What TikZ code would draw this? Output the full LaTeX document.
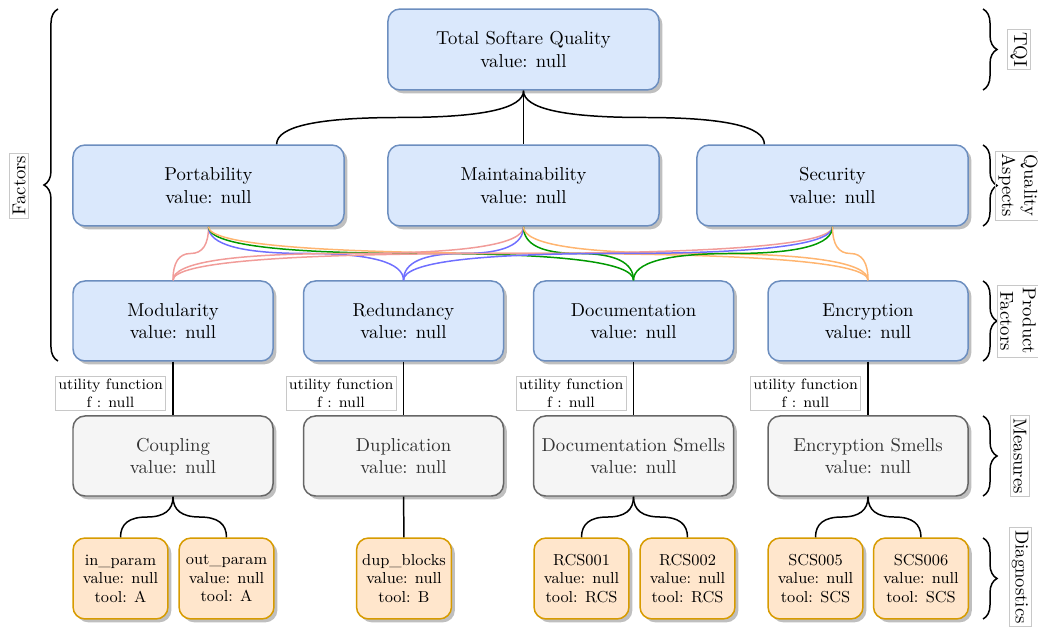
\documentclass[tikz,border=0pt]{standalone}
\usepackage{fontspec}
\usetikzlibrary{calc,shadows,decorations.pathreplacing}

\definecolor{blueFill}{HTML}{DAE8FC}
\definecolor{blueLine}{HTML}{6C8EBF}
\definecolor{greyFill}{HTML}{F5F5F5}
\definecolor{greyLine}{HTML}{666666}
\definecolor{greyText}{HTML}{333333}
\definecolor{orangeFill}{HTML}{FFE6CC}
\definecolor{orangeLine}{HTML}{D79B00}
\definecolor{modColor}{HTML}{F19C99}
\definecolor{redColor}{HTML}{6F6FFF}
\definecolor{docColor}{HTML}{009900}
\definecolor{encColor}{HTML}{FFB570}
\definecolor{tagLine}{HTML}{C8C8C8}

% curved orthogonal link: vertical out, horizontal through the middle, vertical in
\newcommand{\flowcurve}[3][]{%
  \draw[#1] let \p1=(#2), \p2=(#3) in
    (\p1) .. controls (\x1,{(\y1)+((\y2)-(\y1))/3}) and ({(5*(\x1)+(\x2))/6},{((\y1)+(\y2))/2})
    .. ({((\x1)+(\x2))/2},{((\y1)+(\y2))/2})
    .. controls ({((\x1)+5*(\x2))/6},{((\y1)+(\y2))/2}) and (\x2,{(\y2)-((\y2)-(\y1))/3}) .. (\p2);}

\tikzset{
  card/.style={rectangle, rounded corners=6.4pt, line width=0.8pt, align=center,
    inner sep=0pt,
    drop shadow={shadow xshift=1.8pt, shadow yshift=-1.8pt, fill=black, opacity=0.25}},
  bluecard/.style={card, draw=blueLine, fill=blueFill},
  wide/.style={bluecard, minimum width=145pt, minimum height=43.3pt},
  factor/.style={bluecard, minimum width=107pt, minimum height=42.8pt},
  measure/.style={card, draw=greyLine, fill=greyFill, text=greyText,
    minimum width=107pt, minimum height=42.8pt},
  diag/.style={card, draw=orangeLine, fill=orangeFill, minimum width=50.8pt,
    minimum height=43.3pt, font=\fontsize{8.5}{9.9}\selectfont},
  link/.style={draw=black, line width=0.8pt},
  tag/.style={draw=tagLine, fill=white, line width=0.4pt, inner sep=1.5pt,
    align=center, font=\fontsize{8}{9.6}\selectfont},
  sidelabel/.style={draw=tagLine, line width=0.4pt, inner sep=1.5pt, align=center},
  curly/.style={decorate, decoration={brace, amplitude=7.5pt}, line width=0.8pt},
}

\begin{document}
\begin{tikzpicture}[x=0.535pt, y=-0.535pt]
\useasboundingbox (0,0) rectangle (1038,627);

% quality model levels
\node[wide] (tqi)   at (523.5,49.5)  {Total Softare Quality\\value: null};
\node[wide] (port)  at (208.5,185.5) {Portability\\value: null};
\node[wide] (maint) at (523.5,185.5) {Maintainability\\value: null};
\node[wide] (sec)   at (832.5,185.5) {Security\\value: null};

\node[factor] (mod) at (173,321)   {Modularity\\value: null};
\node[factor] (red) at (403.5,321) {Redundancy\\value: null};
\node[factor] (doc) at (633.5,321) {Documentation\\value: null};
\node[factor] (enc) at (868,321)   {Encryption\\value: null};

\node[measure] (coup) at (173,456)   {Coupling\\value: null};
\node[measure] (dup)  at (403.5,456) {Duplication\\value: null};
\node[measure] (docs) at (633.5,456) {Documentation Smells\\value: null};
\node[measure] (encs) at (868,456)   {Encryption Smells\\value: null};

\node[diag] (inp)  at (120.5,578.5) {in\_param\\value: null\\tool: A};
\node[diag] (outp) at (226.5,578.5) {out\_param\\value: null\\tool: A};
\node[diag] (dupb) at (404,578.5)   {dup\_blocks\\value: null\\tool: B};
\node[diag] (rcs1) at (581.5,578.5) {RCS001\\value: null\\tool: RCS};
\node[diag] (rcs2) at (687.5,578.5) {RCS002\\value: null\\tool: RCS};
\node[diag] (scs5) at (815.5,578.5) {SCS005\\value: null\\tool: SCS};
\node[diag] (scs6) at (921,578.5)   {SCS006\\value: null\\tool: SCS};

% TQI to quality aspects
\coordinate (portIn) at ($(port.north west)!.75!(port.north east)$);
\coordinate (secIn)  at ($(sec.north west)!.25!(sec.north east)$);
\flowcurve[link]{tqi.south}{portIn}
\flowcurve[link]{tqi.south}{secIn}
\draw[link] (tqi) -- (maint);

% quality aspects to product factors
\foreach \a in {port,maint,sec}{
  \flowcurve[line width=0.8pt, modColor]{\a.south}{mod.north}
  \flowcurve[line width=0.8pt, redColor]{\a.south}{red.north}
  \flowcurve[line width=0.8pt, docColor]{\a.south}{doc.north}
  \flowcurve[line width=0.8pt, encColor]{\a.south}{enc.north}
}

% product factors to measures, with utility functions
\foreach \f/\m in {mod/coup, red/dup, doc/docs, enc/encs}{
  \draw[link] (\f) -- (\m);
  \node[tag, anchor=east] (uf-\f) at ($(\f.south)+(-7,32)$) {utility function\\f : null};
}

% measures to diagnostics
\flowcurve[link]{coup.south}{inp.north}
\flowcurve[link]{coup.south}{outp.north}
\draw[link] (dup) -- (dupb);
\flowcurve[link]{docs.south}{rcs1.north}
\flowcurve[link]{docs.south}{rcs2.north}
\flowcurve[link]{encs.south}{scs5.north}
\flowcurve[link]{encs.south}{scs6.north}

% level braces
\draw[curly] (983,9)   -- (983,90);
\draw[curly] (983,145) -- (983,226);
\draw[curly] (983,281) -- (983,361);
\draw[curly] (983,416) -- (983,496);
\draw[curly] (983,538) -- (983,619);
\draw[curly] (58,361)  -- (58,9);

\node[sidelabel, rotate=-90] (lTqi)  at (1019,49.5)  {TQI};
\node[sidelabel, rotate=-90] (lAsp)  at (1018,185.5) {Quality\\Aspects};
\node[sidelabel, rotate=-90] (lPf)   at (1018,321)   {Product\\Factors};
\node[sidelabel, rotate=-90] (lMeas) at (1020,456)   {Measures};
\node[sidelabel, rotate=-90] (lDiag) at (1020,577)   {Diagnostics};
\node[sidelabel, rotate=90]  (lFac)  at (19,185.5)   {Factors};
\end{tikzpicture}
\end{document}
